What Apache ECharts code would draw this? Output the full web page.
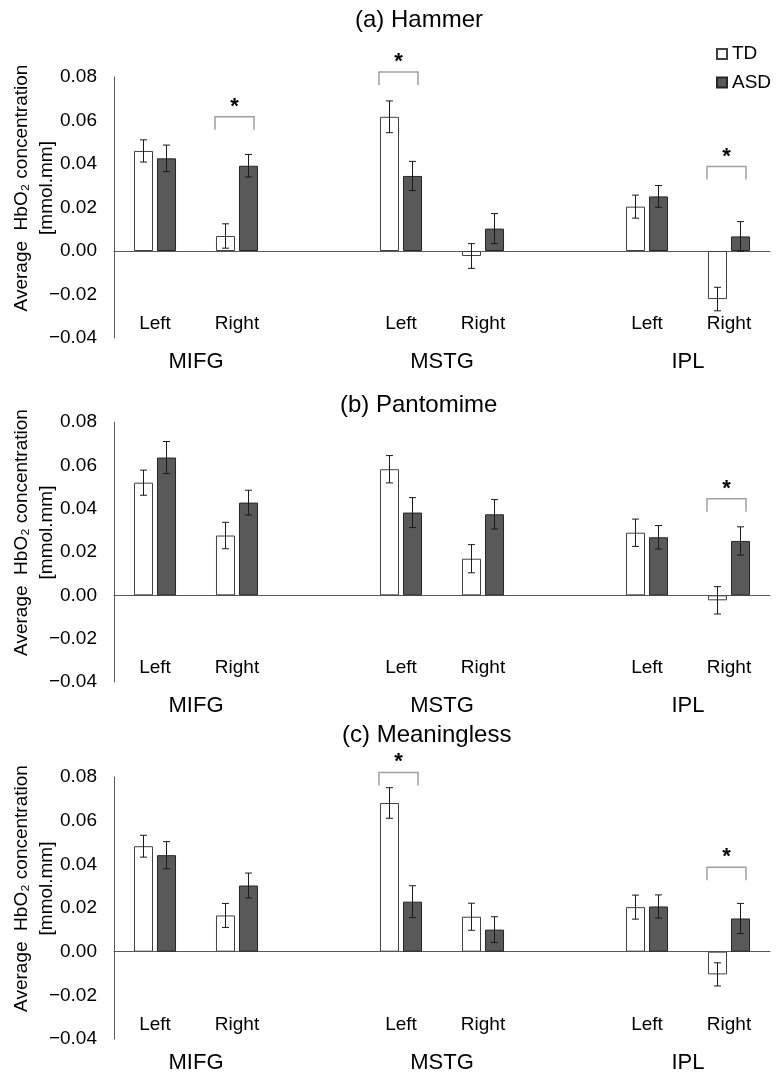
<!DOCTYPE html>
<html><head><meta charset="utf-8">
<script src="https://cdn.jsdelivr.net/npm/echarts@6/dist/echarts.min.js"></script>
<style>html,body{margin:0;padding:0;background:#fff}#c{width:778px;height:1079px}</style>
</head><body><div id="c"></div>
<script>
// ---------- data ----------
const categories = ['Left', 'Right', '', 'Left', 'Right', '', 'Left', 'Right'];
const regionLabels = { 1: 'MIFG', 4: 'MSTG', 7: 'IPL' };
const panelTitles = ['(a) Hammer', '(b) Pantomime', '(c) Meaningless'];
const seriesNames = ['TD', 'ASD'];
const yMin = -0.04, yMax = 0.08, yStep = 0.02;

// (a) Hammer
const hammerTD     = [0.0460, 0.0069, null, 0.0617, -0.0023, null, 0.0204, -0.0221];
const hammerTDErr  = [0.0051, 0.0056, null, 0.0073,  0.0057, null, 0.0053,  0.0054];
const hammerASD    = [0.0426, 0.0392, null, 0.0345,  0.0103, null, 0.0251,  0.0067];
const hammerASDErr = [0.0061, 0.0052, null, 0.0067,  0.0069, null, 0.0050,  0.0068];
const hammerSig    = [[1, 0.0617], [3, 0.0823], [7, 0.0388]];

// (b) Pantomime
const pantoTD     = [0.0520, 0.0276, null, 0.0582, 0.0169, null, 0.0289, -0.0023];
const pantoTDErr  = [0.0058, 0.0061, null, 0.0063, 0.0065, null, 0.0063,  0.0063];
const pantoASD    = [0.0636, 0.0428, null, 0.0382, 0.0374, null, 0.0268,  0.0251];
const pantoASDErr = [0.0074, 0.0057, null, 0.0069, 0.0068, null, 0.0054,  0.0065];
const pantoSig    = [[7, 0.0446]];

// (c) Meaningless
const meanTD     = [0.0483, 0.0166, null, 0.0681, 0.0160, null, 0.0204, -0.0104];
const meanTDErr  = [0.0050, 0.0055, null, 0.0070, 0.0062, null, 0.0055,  0.0053];
const meanASD    = [0.0442, 0.0303, null, 0.0229, 0.0101, null, 0.0207,  0.0152];
const meanASDErr = [0.0062, 0.0057, null, 0.0073, 0.0059, null, 0.0053,  0.0069];
const meanSig    = [[3, 0.0821], [7, 0.0387]];

const panels = [
  { td: hammerTD, tdErr: hammerTDErr, asd: hammerASD, asdErr: hammerASDErr, sig: hammerSig },
  { td: pantoTD, tdErr: pantoTDErr, asd: pantoASD, asdErr: pantoASDErr, sig: pantoSig },
  { td: meanTD, tdErr: meanTDErr, asd: meanASD, asdErr: meanASDErr, sig: meanSig }
];

// ---------- style / layout ----------
const FONT = '"Liberation Sans", Arial, sans-serif';
const BAR_RATIO = 0.232, GAP_RATIO = 0.21;
const gridBoxes = [
  { left: 114, right: 8, top: 77, height: 261, containLabel: false, outerBoundsMode: 'none' },
  { left: 114, right: 8, top: 422, height: 260, containLabel: false, outerBoundsMode: 'none' },
  { left: 114, right: 8, top: 777, height: 262, containLabel: false, outerBoundsMode: 'none' }
];
const titlePos = [{ left: 355, top: 8 }, { left: 340, top: 393 }, { left: 342, top: 723 }];

function errRender(sign) {
  return function (params, api) {
    const x = api.value(0), v = api.value(1), e = api.value(2);
    const band = api.size([1, 0])[0];
    const bw = band * BAR_RATIO;
    const off = sign * (bw + bw * GAP_RATIO) / 2;
    const t = api.coord([x, v + e]);
    const b = api.coord([x, v - e]);
    const cx = t[0] + off, cap = 3.5;
    const st = { stroke: '#1a1a1a', lineWidth: 1 };
    return { type: 'group', children: [
      { type: 'line', shape: { x1: cx, y1: t[1], x2: cx, y2: b[1] }, style: st },
      { type: 'line', shape: { x1: cx - cap, y1: t[1], x2: cx + cap, y2: t[1] }, style: st },
      { type: 'line', shape: { x1: cx - cap, y1: b[1], x2: cx + cap, y2: b[1] }, style: st }
    ]};
  };
}
function sigRender(params, api) {
  const x = api.value(0), v = api.value(1);
  const p = api.coord([x, v]);
  const l = p[0] - 22, r = p[0] + 17, y = p[1], leg = 13;
  return { type: 'group', children: [
    { type: 'polyline', shape: { points: [[l, y + leg], [l, y], [r, y], [r, y + leg]] },
      style: { stroke: '#a0a0a0', lineWidth: 1.5, fill: null } },
    { type: 'text', style: { text: '*', x: (l + r) / 2, y: y - 10, align: 'center', verticalAlign: 'middle',
      fontSize: 22, fontWeight: 'bold', fontFamily: FONT, fill: '#000' } }
  ]};
}
function errData(vals, errs) {
  const out = [];
  vals.forEach((v, i) => { if (v !== null) out.push([i, v, errs[i]]); });
  return out;
}

const option = {
  animation: false,
  backgroundColor: '#fff',
  textStyle: { fontFamily: FONT },
  title: panelTitles.map((t, i) => ({
    text: t, left: titlePos[i].left, top: titlePos[i].top, padding: 0,
    textStyle: { fontSize: 24, fontWeight: 'normal', color: '#000', fontFamily: FONT }
  })),
  legend: {
    data: seriesNames, orient: 'vertical', left: 716, top: 44, padding: 0,
    itemWidth: 10, itemHeight: 10, itemGap: 8.5, icon: 'rect',
    textStyle: { fontSize: 19, lineHeight: 20, color: '#000', fontFamily: FONT }
  },
  grid: gridBoxes,
  xAxis: [],
  yAxis: [],
  series: []
};

panels.forEach((p, i) => {
  option.xAxis.push({
    gridIndex: i, type: 'category', data: categories, position: 'bottom',
    axisLine: { onZero: true, lineStyle: { color: '#595959', width: 1 } },
    axisTick: { show: false },
    axisLabel: { interval: 0, fontSize: 19, margin: -24, color: '#000', fontFamily: FONT }
  });
  option.xAxis.push({
    gridIndex: i, type: 'value', min: 0, max: categories.length, interval: 1, position: 'bottom',
    axisLine: { show: false, onZero: false }, axisTick: { show: false }, splitLine: { show: false },
    axisLabel: { formatter: v => regionLabels[v] || '', fontSize: 22, margin: 13, color: '#000', fontFamily: FONT,
      showMinLabel: true, showMaxLabel: true }
  });
  option.yAxis.push({
    gridIndex: i, type: 'value', min: yMin, max: yMax, interval: yStep,
    axisLine: { show: true, lineStyle: { color: '#595959', width: 1 } },
    axisTick: { show: false }, splitLine: { show: false },
    axisLabel: { formatter: v => (v < -1e-9 ? '\u2212' : '') + Math.abs(v).toFixed(2),
      fontSize: 19, margin: 17, color: '#000', fontFamily: FONT },
    name: 'Average  HbO\u2082 concentration\n[mmol.mm]', nameLocation: 'middle', nameRotate: 90, nameGap: 55,
    nameMoveOverlap: false,
    nameTextStyle: { fontSize: 19, lineHeight: 25, color: '#000', fontFamily: FONT, padding: [0, 0, 0, 39] }
  });
  const xi = 2 * i;
  option.series.push(
    { type: 'bar', name: seriesNames[0], xAxisIndex: xi, yAxisIndex: i, data: p.td,
      barWidth: (BAR_RATIO * 100) + '%', barGap: (GAP_RATIO * 100) + '%',
      itemStyle: { color: '#ffffff', borderColor: '#404040', borderWidth: 1 } },
    { type: 'bar', name: seriesNames[1], xAxisIndex: xi, yAxisIndex: i, data: p.asd,
      barWidth: (BAR_RATIO * 100) + '%', barGap: (GAP_RATIO * 100) + '%',
      itemStyle: { color: '#595959', borderColor: '#262626', borderWidth: 1 } },
    { type: 'custom', xAxisIndex: xi, yAxisIndex: i, renderItem: errRender(-1), data: errData(p.td, p.tdErr),
      encode: { x: 0, y: 1 }, z: 5, silent: true },
    { type: 'custom', xAxisIndex: xi, yAxisIndex: i, renderItem: errRender(1), data: errData(p.asd, p.asdErr),
      encode: { x: 0, y: 1 }, z: 5, silent: true },
    { type: 'custom', xAxisIndex: xi, yAxisIndex: i, renderItem: sigRender, data: p.sig,
      encode: { x: 0, y: 1 }, z: 5, silent: true, clip: false }
  );
});

const chart = echarts.init(document.getElementById('c'), null, { renderer: 'canvas' });
chart.setOption(option);
</script>
</body></html>
